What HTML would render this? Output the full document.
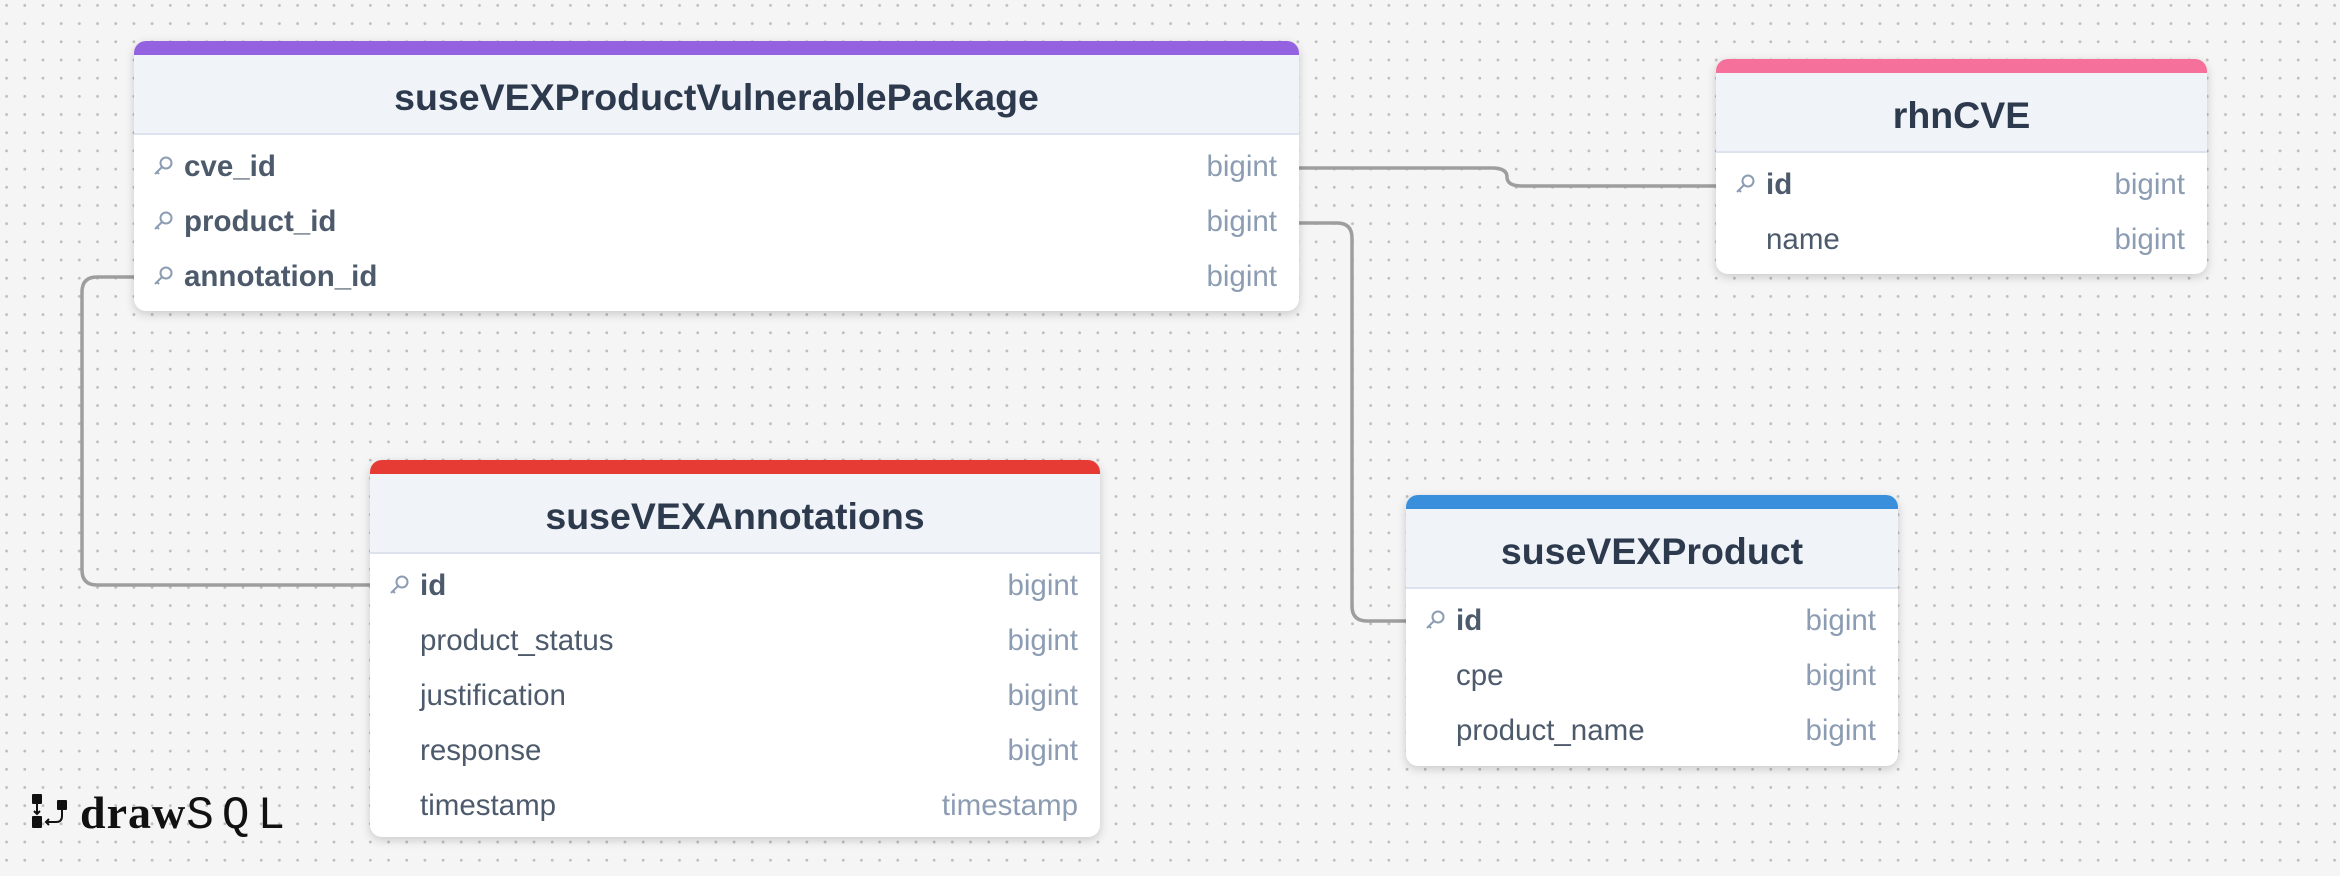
<!DOCTYPE html>
<html><head><meta charset="utf-8"><style>
html,body{margin:0;padding:0}
body{width:2340px;height:876px;position:relative;overflow:hidden;background-color:#f5f5f5;
background-image:radial-gradient(circle,#bdbdbd 1.3px,transparent 1.6px);background-size:18.2px 18.2px;background-position:-2.5px -3.7px;
font-family:"Liberation Sans",sans-serif}
.t{position:absolute;background:#fff;border-radius:12px;box-shadow:0 3px 10px rgba(0,0,0,.18);overflow:hidden}
.s{height:14px}
.h{height:80px;box-sizing:border-box;padding-top:6px;background:#f0f3f8;border-bottom:2px solid #dce3ee;display:flex;align-items:center;justify-content:center;font-weight:bold;font-size:37.5px;color:#2d3a4d}
.rows{padding-top:4px}
.r{height:55px;display:flex;align-items:center;position:relative;font-size:29.5px;color:#4c5a6b}
.r .n{position:absolute;left:50px}
.r .n.k{font-weight:bold}
.r .ty{position:absolute;right:22px;color:#8c9cb2}
.r svg{position:absolute;left:18px;top:16px}
svg.l{position:absolute;left:0;top:0}
</style></head><body>
<svg class="l" width="2340" height="876"><g fill="none" stroke="#9e9e9e" stroke-width="3.5">
<path d="M1299 168 H1492 Q1507 168 1507 177 Q1507 186 1522 186 H1716"/>
<path d="M1299 223 H1337 Q1352 223 1352 238 V606 Q1352 621 1367 621 H1406"/>
<path d="M134 277 H97 Q82 277 82 292 V570 Q82 585 97 585 H370"/>
</g></svg>

<div class="t" style="left:134px;top:41px;width:1165px;height:270px"><div class="s" style="background:#9461e0"></div><div class="h">suseVEXProductVulnerablePackage</div><div class="rows">
<div class="r"><svg width="22" height="22" viewBox="0 0 22 22"><circle cx="14" cy="8" r="5.5" fill="none" stroke="#8c9cb2" stroke-width="2"/><path d="M10 12 L3 19 M5 17 L7 19" stroke="#8c9cb2" stroke-width="2" fill="none"/></svg><span class="n k">cve_id</span><span class="ty">bigint</span></div>
<div class="r"><svg width="22" height="22" viewBox="0 0 22 22"><circle cx="14" cy="8" r="5.5" fill="none" stroke="#8c9cb2" stroke-width="2"/><path d="M10 12 L3 19 M5 17 L7 19" stroke="#8c9cb2" stroke-width="2" fill="none"/></svg><span class="n k">product_id</span><span class="ty">bigint</span></div>
<div class="r"><svg width="22" height="22" viewBox="0 0 22 22"><circle cx="14" cy="8" r="5.5" fill="none" stroke="#8c9cb2" stroke-width="2"/><path d="M10 12 L3 19 M5 17 L7 19" stroke="#8c9cb2" stroke-width="2" fill="none"/></svg><span class="n k">annotation_id</span><span class="ty">bigint</span></div>
</div></div>

<div class="t" style="left:1716px;top:59px;width:491px;height:215px"><div class="s" style="background:#f5709a"></div><div class="h">rhnCVE</div><div class="rows">
<div class="r"><svg width="22" height="22" viewBox="0 0 22 22"><circle cx="14" cy="8" r="5.5" fill="none" stroke="#8c9cb2" stroke-width="2"/><path d="M10 12 L3 19 M5 17 L7 19" stroke="#8c9cb2" stroke-width="2" fill="none"/></svg><span class="n k">id</span><span class="ty">bigint</span></div>
<div class="r"><span class="n">name</span><span class="ty">bigint</span></div>
</div></div>

<div class="t" style="left:370px;top:460px;width:730px;height:377px"><div class="s" style="background:#e63a35"></div><div class="h">suseVEXAnnotations</div><div class="rows">
<div class="r"><svg width="22" height="22" viewBox="0 0 22 22"><circle cx="14" cy="8" r="5.5" fill="none" stroke="#8c9cb2" stroke-width="2"/><path d="M10 12 L3 19 M5 17 L7 19" stroke="#8c9cb2" stroke-width="2" fill="none"/></svg><span class="n k">id</span><span class="ty">bigint</span></div>
<div class="r"><span class="n">product_status</span><span class="ty">bigint</span></div>
<div class="r"><span class="n">justification</span><span class="ty">bigint</span></div>
<div class="r"><span class="n">response</span><span class="ty">bigint</span></div>
<div class="r"><span class="n">timestamp</span><span class="ty">timestamp</span></div>
</div></div>

<div class="t" style="left:1406px;top:495px;width:492px;height:271px"><div class="s" style="background:#3a8fdc"></div><div class="h">suseVEXProduct</div><div class="rows">
<div class="r"><svg width="22" height="22" viewBox="0 0 22 22"><circle cx="14" cy="8" r="5.5" fill="none" stroke="#8c9cb2" stroke-width="2"/><path d="M10 12 L3 19 M5 17 L7 19" stroke="#8c9cb2" stroke-width="2" fill="none"/></svg><span class="n k">id</span><span class="ty">bigint</span></div>
<div class="r"><span class="n">cpe</span><span class="ty">bigint</span></div>
<div class="r"><span class="n">product_name</span><span class="ty">bigint</span></div>
</div></div>

<svg style="position:absolute;left:30px;top:792px" width="44" height="44" viewBox="0 0 44 44"><rect x="2" y="2" width="10" height="10" rx="1" fill="#111"/><rect x="2" y="24" width="10" height="12" rx="1" fill="#111"/><rect x="27" y="8" width="10" height="10" rx="1" fill="#111"/><path d="M7 12 V22 M4 19 L7 22 L10 19 M32 18 V24 Q32 30 26 30 H16 M19 27 L16 30 L19 33" stroke="#111" stroke-width="2" fill="none"/></svg>
<div style="position:absolute;left:80px;top:786px;font-size:46px;line-height:52px;color:#111;white-space:nowrap"><span style="font-family:'Liberation Serif',serif;font-weight:bold;letter-spacing:1px">draw</span><span style="font-family:'Liberation Mono',monospace;font-weight:normal;letter-spacing:8px">SQL</span></div>
</body></html>
